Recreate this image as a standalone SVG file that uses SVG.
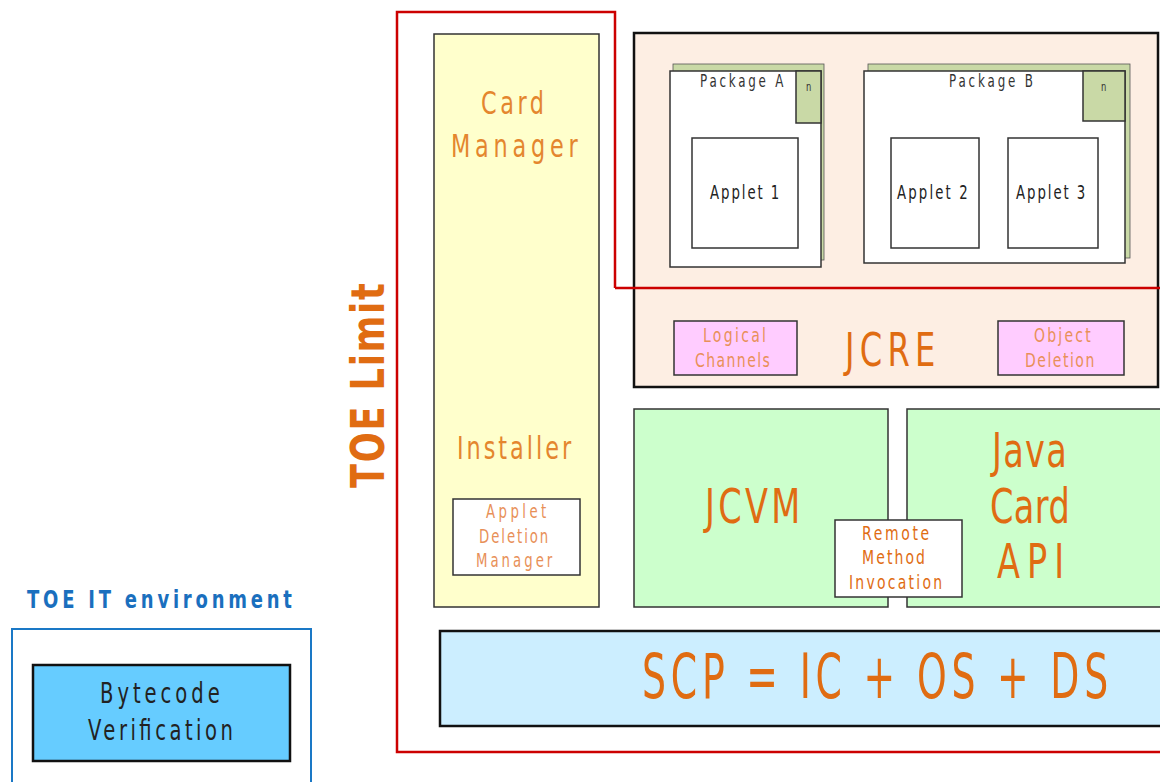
<svg xmlns="http://www.w3.org/2000/svg" width="1160" height="782" viewBox="0 0 1160 782">
<style>
text{font-family:"DejaVu Sans","Liberation Sans",sans-serif}
.box{stroke:#333;stroke-width:1.5}
.big{fill:#e06c12}
.mid{fill:#e4862e}
.sm{fill:#e89058}
.dark{fill:#222}
.shadow{fill:#c9d9a6;stroke:#555;stroke-width:0.8}
.red{fill:none;stroke:#cc0000;stroke-width:2.5}
</style>
<rect width="1160" height="782" fill="#ffffff"/>

<g id="toe-it-env">
<rect x="12" y="629" width="299" height="170" fill="none" stroke="#1a78c6" stroke-width="2"/>
<text transform="translate(27,608) scale(0.72,1)" font-size="25" font-weight="bold" fill="#1a6fbe" textLength="368" lengthAdjust="spacing">TOE IT environment</text>
</g>
<g id="bytecode">
<rect x="33" y="665" width="257" height="96" fill="#66ccff" stroke="#111" stroke-width="2.5"/>
<text class="dark" transform="translate(100,703) scale(0.7,1)" font-size="28" textLength="171" lengthAdjust="spacing">Bytecode</text>
<text class="dark" transform="translate(88,740) scale(0.7,1)" font-size="28" textLength="207" lengthAdjust="spacing">Verification</text>
</g>

<g id="card-manager">
<rect class="box" x="434" y="34" width="165" height="573" fill="#ffffcc"/>
<text class="mid" transform="translate(481,114) scale(0.7,1)" font-size="32" textLength="90" lengthAdjust="spacing">Card</text>
<text class="mid" transform="translate(451,157) scale(0.7,1)" font-size="32" textLength="181" lengthAdjust="spacing">Manager</text>
<text class="mid" transform="translate(457,459) scale(0.7,1)" font-size="32" textLength="163" lengthAdjust="spacing">Installer</text>
</g>
<g id="applet-deletion-manager">
<rect class="box" x="453" y="499" width="127" height="76" fill="#ffffff"/>
<text class="sm" transform="translate(486,518) scale(0.7,1)" font-size="19" textLength="86" lengthAdjust="spacing">Applet</text>
<text class="sm" transform="translate(479,543) scale(0.7,1)" font-size="19" textLength="99" lengthAdjust="spacing">Deletion</text>
<text class="sm" transform="translate(476,567) scale(0.7,1)" font-size="19" textLength="109" lengthAdjust="spacing">Manager</text>
</g>

<g id="jcre">
<rect x="634" y="33" width="524" height="354" fill="#fdeee3" stroke="#111" stroke-width="2.5"/>
<text class="big" transform="translate(845,366) scale(0.7,1)" font-size="46" textLength="129" lengthAdjust="spacing">JCRE</text>
</g>

<g id="package-a">
<rect class="shadow" x="673" y="64" width="151" height="196"/>
<rect class="box" x="670" y="71" width="151" height="196" fill="#ffffff"/>
<rect class="box" x="796" y="71" width="25" height="52" fill="#c9d9a6"/>
<text transform="translate(700,87) scale(0.7,1)" font-size="17" fill="#333" textLength="119" lengthAdjust="spacing">Package A</text>
<text transform="translate(806,91) scale(0.7,1)" font-size="12" fill="#333">n</text>
</g>
<g id="applet1">
<rect class="box" x="692" y="138" width="106" height="110" fill="#ffffff"/>
<text transform="translate(710,199) scale(0.7,1)" font-size="19" fill="#222" textLength="99" lengthAdjust="spacing">Applet 1</text>
</g>

<g id="package-b">
<rect class="shadow" x="868" y="64" width="262" height="194"/>
<rect class="box" x="864" y="71" width="261" height="192" fill="#ffffff"/>
<rect class="box" x="1083" y="71" width="42" height="50" fill="#c9d9a6"/>
<text transform="translate(949,87) scale(0.7,1)" font-size="17" fill="#333" textLength="120" lengthAdjust="spacing">Package B</text>
<text transform="translate(1101,91) scale(0.7,1)" font-size="12" fill="#333">n</text>
</g>
<g id="applet2">
<rect class="box" x="891" y="138" width="88" height="110" fill="#ffffff"/>
<text transform="translate(897,199) scale(0.7,1)" font-size="19" fill="#222" textLength="101" lengthAdjust="spacing">Applet 2</text>
</g>
<g id="applet3">
<rect class="box" x="1008" y="138" width="90" height="110" fill="#ffffff"/>
<text transform="translate(1016,199) scale(0.7,1)" font-size="19" fill="#222" textLength="99" lengthAdjust="spacing">Applet 3</text>
</g>

<g id="logical-channels">
<rect class="box" x="674" y="321" width="123" height="54" fill="#ffccff"/>
<text class="sm" transform="translate(703,342) scale(0.7,1)" font-size="20" textLength="90" lengthAdjust="spacing">Logical</text>
<text class="sm" transform="translate(695,367) scale(0.7,1)" font-size="20" textLength="107" lengthAdjust="spacing">Channels</text>
</g>
<g id="object-deletion">
<rect class="box" x="998" y="321" width="126" height="54" fill="#ffccff"/>
<text class="sm" transform="translate(1034,342) scale(0.7,1)" font-size="20" textLength="81" lengthAdjust="spacing">Object</text>
<text class="sm" transform="translate(1025,367) scale(0.7,1)" font-size="20" textLength="99" lengthAdjust="spacing">Deletion</text>
</g>

<g id="jcvm">
<rect class="box" x="634" y="409" width="254" height="198" fill="#ccffcc"/>
<text class="big" transform="translate(705,523) scale(0.7,1)" font-size="48" textLength="136" lengthAdjust="spacing">JCVM</text>
</g>
<g id="java-card-api">
<rect class="box" x="907" y="409" width="260" height="198" fill="#ccffcc"/>
<text class="big" transform="translate(992,467) scale(0.7,1)" font-size="48" textLength="107" lengthAdjust="spacing">Java</text>
<text class="big" transform="translate(990,523) scale(0.7,1)" font-size="48" textLength="114" lengthAdjust="spacing">Card</text>
<text class="big" transform="translate(997,578) scale(0.7,1)" font-size="48" textLength="96" lengthAdjust="spacing">API</text>
</g>
<g id="rmi">
<rect class="box" x="835" y="520" width="127" height="77" fill="#ffffff"/>
<text class="big" transform="translate(862,540) scale(0.7,1)" font-size="20" textLength="96" lengthAdjust="spacing">Remote</text>
<text class="big" transform="translate(862,564) scale(0.7,1)" font-size="20" textLength="90" lengthAdjust="spacing">Method</text>
<text class="big" transform="translate(849,589) scale(0.7,1)" font-size="20" textLength="133" lengthAdjust="spacing">Invocation</text>
</g>

<g id="scp">
<rect x="440" y="631" width="730" height="95" fill="#cceeff" stroke="#111" stroke-width="2.5"/>
<text class="big" transform="translate(642,698) scale(0.6,1)" font-size="63" textLength="777" lengthAdjust="spacing">SCP = IC + OS + DS</text>
</g>

<g id="toe-limit">
<path class="red" d="M615,288 L615,12 L397,12 L397,752 L1162,752 M615,288 L1162,288"/>
<text class="big" transform="translate(384,488) rotate(-90) scale(0.75,1)" font-size="47" font-weight="bold" textLength="273" lengthAdjust="spacing">TOE Limit</text>
</g>
</svg>
